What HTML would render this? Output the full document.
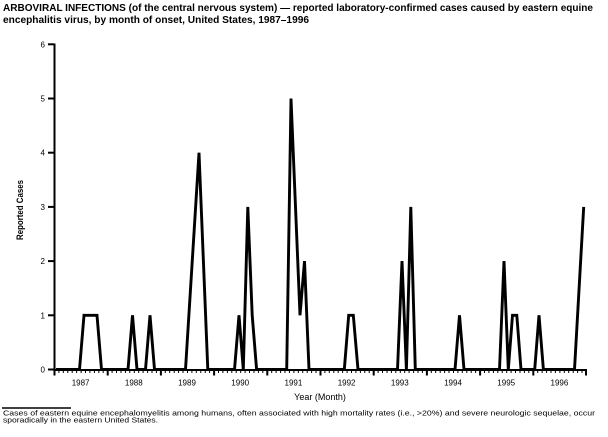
<!DOCTYPE html>
<html>
<head>
<meta charset="utf-8">
<style>
  html, body { margin:0; padding:0; background:#fff; }
  body { width:608px; height:437px; overflow:hidden; }
  svg { display:block; }
  text { font-family: "Liberation Sans", "DejaVu Sans", sans-serif; fill:#000; }
</style>
</head>
<body>
<svg width="608" height="437" viewBox="0 0 608 437" xmlns="http://www.w3.org/2000/svg">
  <rect x="0" y="0" width="608" height="437" fill="#fff"/>

  <!-- Title -->
  <text x="3" y="11" font-size="10.5" font-weight="bold" textLength="590" lengthAdjust="spacingAndGlyphs">ARBOVIRAL INFECTIONS (of the central nervous system) — reported laboratory-confirmed cases caused by eastern equine</text>
  <text x="3" y="23" font-size="10.5" font-weight="bold" textLength="306" lengthAdjust="spacingAndGlyphs">encephalitis virus, by month of onset, United States, 1987–1996</text>

  <!-- Y axis label -->
  <text transform="translate(23,210) rotate(-90)" font-size="9" font-weight="bold" text-anchor="middle" textLength="60" lengthAdjust="spacingAndGlyphs">Reported Cases</text>

  <!-- Y axis -->
  <line x1="54.5" y1="43.5" x2="54.5" y2="371" stroke="#000" stroke-width="2"/>
  <g stroke="#000" stroke-width="2">
    <line x1="48" y1="369.5" x2="54" y2="369.5"/>
    <line x1="48" y1="315.3" x2="54" y2="315.3"/>
    <line x1="48" y1="261.1" x2="54" y2="261.1"/>
    <line x1="48" y1="206.9" x2="54" y2="206.9"/>
    <line x1="48" y1="152.7" x2="54" y2="152.7"/>
    <line x1="48" y1="98.5" x2="54" y2="98.5"/>
    <line x1="48" y1="44.3" x2="54" y2="44.3"/>
  </g>
  <g font-size="8" text-anchor="end">
    <text x="45" y="372.5">0</text>
    <text x="45" y="318.3">1</text>
    <text x="45" y="264.1">2</text>
    <text x="45" y="209.9">3</text>
    <text x="45" y="155.7">4</text>
    <text x="45" y="101.5">5</text>
    <text x="45" y="47.3">6</text>
  </g>

  <!-- X axis -->
  <line x1="53.5" y1="370" x2="587" y2="370" stroke="#000" stroke-width="2"/>

  <!-- Year labels -->
  <g font-size="8" text-anchor="middle">
    <text x="80.6" y="385.5">1987</text>
    <text x="133.8" y="385.5">1988</text>
    <text x="187" y="385.5">1989</text>
    <text x="240.2" y="385.5">1990</text>
    <text x="293.4" y="385.5">1991</text>
    <text x="346.6" y="385.5">1992</text>
    <text x="399.8" y="385.5">1993</text>
    <text x="453" y="385.5">1994</text>
    <text x="506.2" y="385.5">1995</text>
    <text x="559.4" y="385.5">1996</text>
  </g>
  <text x="320" y="400" font-size="9" text-anchor="middle">Year (Month)</text>

  <!-- Data -->
  <polyline fill="none" stroke="#000" stroke-width="2.9" stroke-linejoin="miter" stroke-miterlimit="10"
    points="56,369.5 79.5,369.5 84,315.3 97,315.3 101.5,369.5 128,369.5 132.5,315.3 137,369.5 145.5,369.5 150,315.3 154.5,369.5 185.5,369.5 199,152.7 207.8,369.5 234.5,369.5 239,315.3 243.3,369.5 247.8,206.9 252.2,315.3 256.6,369.5 286.7,369.5 291,98.5 300,315.3 304.5,261.1 309,369.5 344.3,369.5 348.7,315.3 353.3,315.3 358,369.5 397.5,369.5 402,261.1 406.4,369.5 410.8,206.9 415.3,369.5 455,369.5 459.5,315.3 464,369.5 499.5,369.5 504,261.1 508.3,369.5 512.5,315.3 516.8,315.3 521,369.5 534.7,369.5 539,315.3 543.4,369.5 574.5,369.5 583.7,206.9"/>

  <!-- Footnote -->
  <line x1="2" y1="408" x2="71" y2="408" stroke="#000" stroke-width="1.5"/>
  <text x="3" y="415.5" font-size="7.5" textLength="592" lengthAdjust="spacingAndGlyphs">Cases of eastern equine encephalomyelitis among humans, often associated with high mortality rates (i.e., &gt;20%) and severe neurologic sequelae, occur</text>
  <text x="3" y="422.5" font-size="7.5" textLength="155" lengthAdjust="spacingAndGlyphs">sporadically in the eastern United States.</text>

  <!-- Minor ticks -->
  <g stroke="#000" stroke-width="1">
    <path d="M58.9,370V373 M63.3,370V373 M67.8,370V373 M72.2,370V373 M76.6,370V373 M81.1,370V373 M85.5,370V373 M89.9,370V373 M94.4,370V373 M98.8,370V373 M103.2,370V373
             M112.1,370V373 M116.5,370V373 M121,370V373 M125.4,370V373 M129.8,370V373 M134.3,370V373 M138.7,370V373 M143.1,370V373 M147.6,370V373 M152,370V373 M156.4,370V373
             M165.3,370V373 M169.7,370V373 M174.2,370V373 M178.6,370V373 M183,370V373 M187.5,370V373 M191.9,370V373 M196.3,370V373 M200.8,370V373 M205.2,370V373 M209.6,370V373
             M218.5,370V373 M222.9,370V373 M227.4,370V373 M231.8,370V373 M236.2,370V373 M240.7,370V373 M245.1,370V373 M249.5,370V373 M254,370V373 M258.4,370V373 M262.8,370V373
             M271.7,370V373 M276.1,370V373 M280.6,370V373 M285,370V373 M289.4,370V373 M293.9,370V373 M298.3,370V373 M302.7,370V373 M307.2,370V373 M311.6,370V373 M316,370V373
             M324.9,370V373 M329.3,370V373 M333.8,370V373 M338.2,370V373 M342.6,370V373 M347.1,370V373 M351.5,370V373 M355.9,370V373 M360.4,370V373 M364.8,370V373 M369.2,370V373
             M378.1,370V373 M382.5,370V373 M387,370V373 M391.4,370V373 M395.8,370V373 M400.3,370V373 M404.7,370V373 M409.1,370V373 M413.6,370V373 M418,370V373 M422.4,370V373
             M431.3,370V373 M435.7,370V373 M440.2,370V373 M444.6,370V373 M449,370V373 M453.5,370V373 M457.9,370V373 M462.3,370V373 M466.8,370V373 M471.2,370V373 M475.6,370V373
             M484.5,370V373 M488.9,370V373 M493.4,370V373 M497.8,370V373 M502.2,370V373 M506.7,370V373 M511.1,370V373 M515.5,370V373 M520,370V373 M524.4,370V373 M528.8,370V373
             M537.7,370V373 M542.1,370V373 M546.6,370V373 M551,370V373 M555.4,370V373 M559.9,370V373 M564.3,370V373 M568.7,370V373 M573.2,370V373 M577.6,370V373 M582,370V373"/>
  </g>
  <!-- Major ticks -->
  <g stroke="#000" stroke-width="2">
    <path d="M54.5,370V375.5 M107.7,370V375.5 M160.9,370V375.5 M214.1,370V375.5 M267.3,370V375.5 M320.5,370V375.5 M373.7,370V375.5 M426.9,370V375.5 M480.1,370V375.5 M533.3,370V375.5 M586,370V375.5"/>
  </g>
</svg>
</body>
</html>
